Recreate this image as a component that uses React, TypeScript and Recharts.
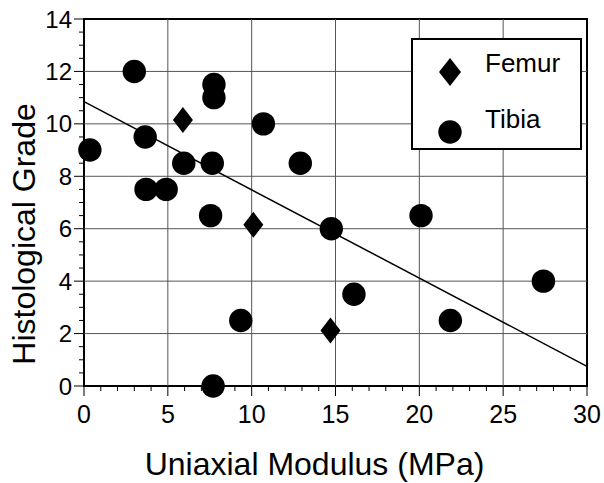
import React from "react";
import {
  ScatterChart,
  Scatter,
  XAxis,
  YAxis,
  ReferenceLine,
  ReferenceArea,
  Legend,
  Label,
} from "recharts";

const femurX = [5.9, 10.1, 14.7];
const femurY = [10.15, 6.15, 2.12];

const tibiaX = [0.35, 3.0, 3.65, 3.7, 4.9, 5.95, 7.75, 7.75, 7.65, 7.55, 10.7, 12.9, 14.75, 20.1, 9.35, 7.7, 16.1, 21.85, 27.4];
const tibiaY = [9.0, 12.0, 9.5, 7.5, 7.5, 8.5, 11.5, 11.0, 8.5, 6.5, 10.0, 8.5, 6.0, 6.5, 2.5, 0.0, 3.5, 2.5, 4.0];

const fitX = [0, 30];
const fitY = [10.85, 0.75];

const xTicks = [0, 1, 2, 3, 4, 5, 6, 7, 8, 9, 10, 11, 12, 13, 14, 15, 16, 17, 18, 19, 20, 21, 22, 23, 24, 25, 26, 27, 28, 29, 30];
const xMajor = [0, 5, 10, 15, 20, 25, 30];
const yTicks = [0, 0.5, 1, 1.5, 2, 2.5, 3, 3.5, 4, 4.5, 5, 5.5, 6, 6.5, 7, 7.5, 8, 8.5, 9, 9.5, 10, 10.5, 11, 11.5, 12, 12.5, 13, 13.5, 14];
const yMajor = [0, 2, 4, 6, 8, 10, 12, 14];

const xTitle = "Uniaxial Modulus (MPa)";
const yTitle = "Histological Grade";

const FONT = '"Liberation Sans", Arial, Helvetica, sans-serif';

const femurData = femurX.map((x, i) => ({ x, y: femurY[i] }));
const tibiaData = tibiaX.map((x, i) => ({ x, y: tibiaY[i] }));
const fitData = fitX.map((x, i) => ({ x, y: fitY[i] }));

const Diamond = (props: any) => {
  const { cx, cy } = props;
  if (cx == null || cy == null) return <g />;
  return (
    <polygon
      points={`${cx},${cy - 13} ${cx + 10},${cy} ${cx},${cy + 13} ${cx - 10},${cy}`}
      fill="#000"
    />
  );
};

const Dot = (props: any) => {
  const { cx, cy } = props;
  if (cx == null || cy == null) return <g />;
  return <circle cx={cx} cy={cy} r={11.7} fill="#000" />;
};

const NoShape = () => <g />;

const XTick = (props: any) => {
  const { x, y, payload } = props;
  const major = xMajor.includes(payload.value);
  return (
    <g>
      <line x1={x} y1={y} x2={x} y2={y + (major ? 10 : 5)} stroke="#000" strokeWidth={1} />
      {major && (
        <text x={x} y={y + 37} textAnchor="middle" fontSize={25} fontFamily={FONT} fill="#000">
          {payload.value}
        </text>
      )}
    </g>
  );
};

const YTick = (props: any) => {
  const { x, y, payload } = props;
  const major = yMajor.includes(payload.value);
  return (
    <g>
      <line x1={x - (major ? 10 : 5)} y1={y} x2={x} y2={y} stroke="#000" strokeWidth={1} />
      {major && (
        <text x={x - 12} y={y + 8.5} textAnchor="end" fontSize={24} fontFamily={FONT} fill="#000">
          {payload.value}
        </text>
      )}
    </g>
  );
};

const XTitle = (props: any) => {
  const vb = props.viewBox || {};
  const cx = vb.x + vb.width / 2 - 21;
  const by = vb.y + 89;
  return (
    <text x={cx} y={by} textAnchor="middle" fontSize={32} fontFamily={FONT} fill="#000">
      {xTitle}
    </text>
  );
};

const YTitle = (props: any) => {
  const vb = props.viewBox || {};
  const cx = vb.x + 35;
  const cy = vb.y + vb.height / 2 + 31.5;
  return (
    <text
      x={cx}
      y={cy}
      transform={`rotate(-90, ${cx}, ${cy})`}
      textAnchor="middle"
      fontSize={32}
      fontFamily={FONT}
      fill="#000"
    >
      {yTitle}
    </text>
  );
};

const LegendBox = () => (
  <svg width={171} height={112} style={{ display: "block" }}>
    <rect x={1} y={1} width={169} height={110} fill="#fff" stroke="#000" strokeWidth={2} />
    <polygon points="39,20 50,34 39,48 28,34" fill="#000" />
    <text x={74} y={34} fontSize={26} fontFamily={FONT} fill="#000">Femur</text>
    <circle cx={39} cy={94} r={11.7} fill="#000" />
    <text x={74} y={90} fontSize={26} fontFamily={FONT} fill="#000">Tibia</text>
  </svg>
);

export default function App() {
  return (
    <div style={{ position: "absolute", left: 0, top: 0, width: 604, height: 483, background: "#fff" }}>
      <ScatterChart width={604} height={483} margin={{ top: 19, right: 17, bottom: 0, left: 0 }}>
        <XAxis
          type="number"
          dataKey="x"
          domain={[0, 30]}
          ticks={xTicks}
          interval={0}
          tickLine={false}
          axisLine={false}
          tickSize={0}
          tickMargin={0}
          tick={<XTick />}
          height={97}
        >
          <Label content={<XTitle />} />
        </XAxis>
        <YAxis
          type="number"
          dataKey="y"
          domain={[0, 14]}
          ticks={yTicks}
          interval={0}
          tickLine={false}
          axisLine={false}
          tickSize={0}
          tickMargin={0}
          tick={<YTick />}
          width={84}
        >
          <Label content={<YTitle />} />
        </YAxis>
        {xMajor.slice(1, -1).map((v) => (
          <ReferenceLine key={"vx" + v} x={v} stroke="#555" strokeWidth={1} />
        ))}
        {yMajor.slice(1, -1).map((v) => (
          <ReferenceLine key={"hy" + v} y={v} stroke="#555" strokeWidth={1} />
        ))}
        <ReferenceArea x1={0} x2={30} y1={0} y2={14} fill="none" fillOpacity={0} stroke="#000" strokeWidth={2} />
        <Scatter
          name="fit"
          data={fitData}
          line={{ stroke: "#000", strokeWidth: 1.5 }}
          shape={<NoShape />}
          isAnimationActive={false}
          legendType="none"
        />
        <Scatter name="Femur" data={femurData} shape={<Diamond />} isAnimationActive={false} />
        <Scatter name="Tibia" data={tibiaData} shape={<Dot />} isAnimationActive={false} />
        <Legend
          layout="vertical"
          align="center"
          verticalAlign="middle"
          content={<LegendBox />}
          wrapperStyle={{ left: 411, top: 38, width: 171, height: 112 }}
        />
      </ScatterChart>
    </div>
  );
}
